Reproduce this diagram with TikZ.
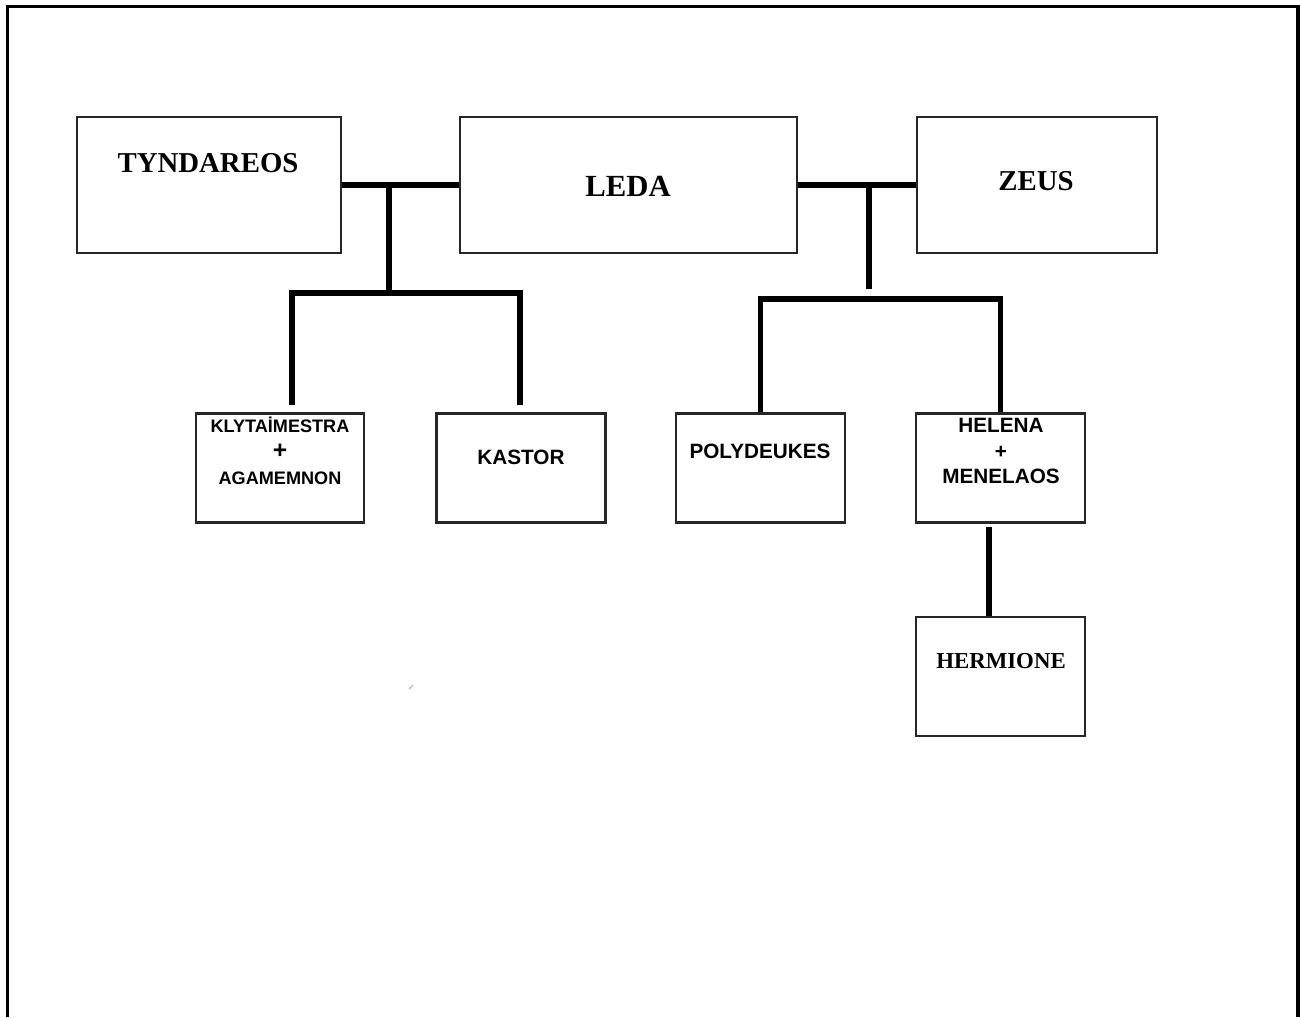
\documentclass[tikz,border=0pt]{standalone}
\usepackage{fontspec}
\setmainfont{Liberation Serif}
\setsansfont{Liberation Sans}
\begin{document}
\begin{tikzpicture}[x=0.02cm,y=-0.02cm,
  box/.style={draw=black!85,line width=1.2pt,rectangle,inner sep=0pt},
  bigname/.style={font=\rmfamily\bfseries\fontsize{16.4}{19}\selectfont,inner sep=0pt},
  smallname/.style={font=\sffamily\bfseries\fontsize{11.8}{14.7}\selectfont,align=center,inner sep=0pt},
  link/.style={line width=3.2pt,black},
  frame/.style={line width=1.8pt,black}]
\useasboundingbox (0,0) rectangle (1300,1017);
% outer frame (open at bottom)
\draw[frame] (7.5,1017) -- (7.5,6.5) -- (1298,6.5) -- (1298,1017);

% top row boxes
\node[box,minimum width=5.28cm,minimum height=2.72cm] (tynbox) at (209,185) {};
\node[box,minimum width=6.74cm,minimum height=2.72cm] (ledabox) at (628.5,185) {};
\node[box,minimum width=4.8cm,minimum height=2.72cm] (zeusbox) at (1037,185) {};
\node[bigname] (tyn) at (208,163) {TYNDAREOS};
\node[bigname,font=\rmfamily\bfseries\fontsize{17.5}{20}\selectfont] (leda) at (628,186) {LEDA};
\node[bigname] (zeus) at (1036,181) {ZEUS};

% second row boxes
\node[box,minimum width=3.36cm,minimum height=2.18cm] (klybox) at (280,468) {};
\node[box,minimum width=3.38cm,minimum height=2.18cm] (kasbox) at (521,468) {};
\node[box,minimum width=3.38cm,minimum height=2.18cm] (polbox) at (760.5,468) {};
\node[box,minimum width=3.38cm,minimum height=2.18cm] (helbox) at (1000.5,468) {};
\node[box,minimum width=3.38cm,minimum height=2.38cm] (herbox) at (1000.5,676.5) {};

\node[smallname,font=\sffamily\bfseries\fontsize{10.3}{14.8}\selectfont] (kly) at (280,451)
  {KLYTAİMESTRA\\{\fontsize{14}{14}\selectfont +}\\AGAMEMNON};
\node[smallname] (kas) at (521,457) {KASTOR};
\node[smallname] (pol) at (760,451) {POLYDEUKES};
\node[smallname] (hel) at (1001,451) {HELENA\\+\\MENELAOS};
\node[bigname,font=\rmfamily\bfseries\fontsize{13}{15}\selectfont] (her) at (1001,661) {HERMIONE};

% left family connectors
\draw[link] (tynbox.east) -- (ledabox.west);
\coordinate (jL) at (389,185);
\coordinate (jLb) at (389,291);
\draw[link] (jL) -- (jLb);
\coordinate (lA) at (292,405);
\coordinate (lB) at (520,405);
\draw[link] (lA) -- (292,293) -- (520,293) -- (lB);

% right family connectors
\draw[link] (ledabox.east) -- (zeusbox.west);
\coordinate (jR) at (869,185);
\coordinate (jRb) at (869,289);
\draw[link] (jR) -- (jRb);
\draw[link] (polbox.north) -- (polbox.north |- 0,299) -- (helbox.north |- 0,299) -- (helbox.north);

% Helena to Hermione
\coordinate (hA) at (989,527);
\draw[link] (hA) -- (hA |- herbox.north);

% faint stray mark
\draw[black!30,line width=0.6pt] (409,689) -- (413,685);
\end{tikzpicture}
\end{document}
